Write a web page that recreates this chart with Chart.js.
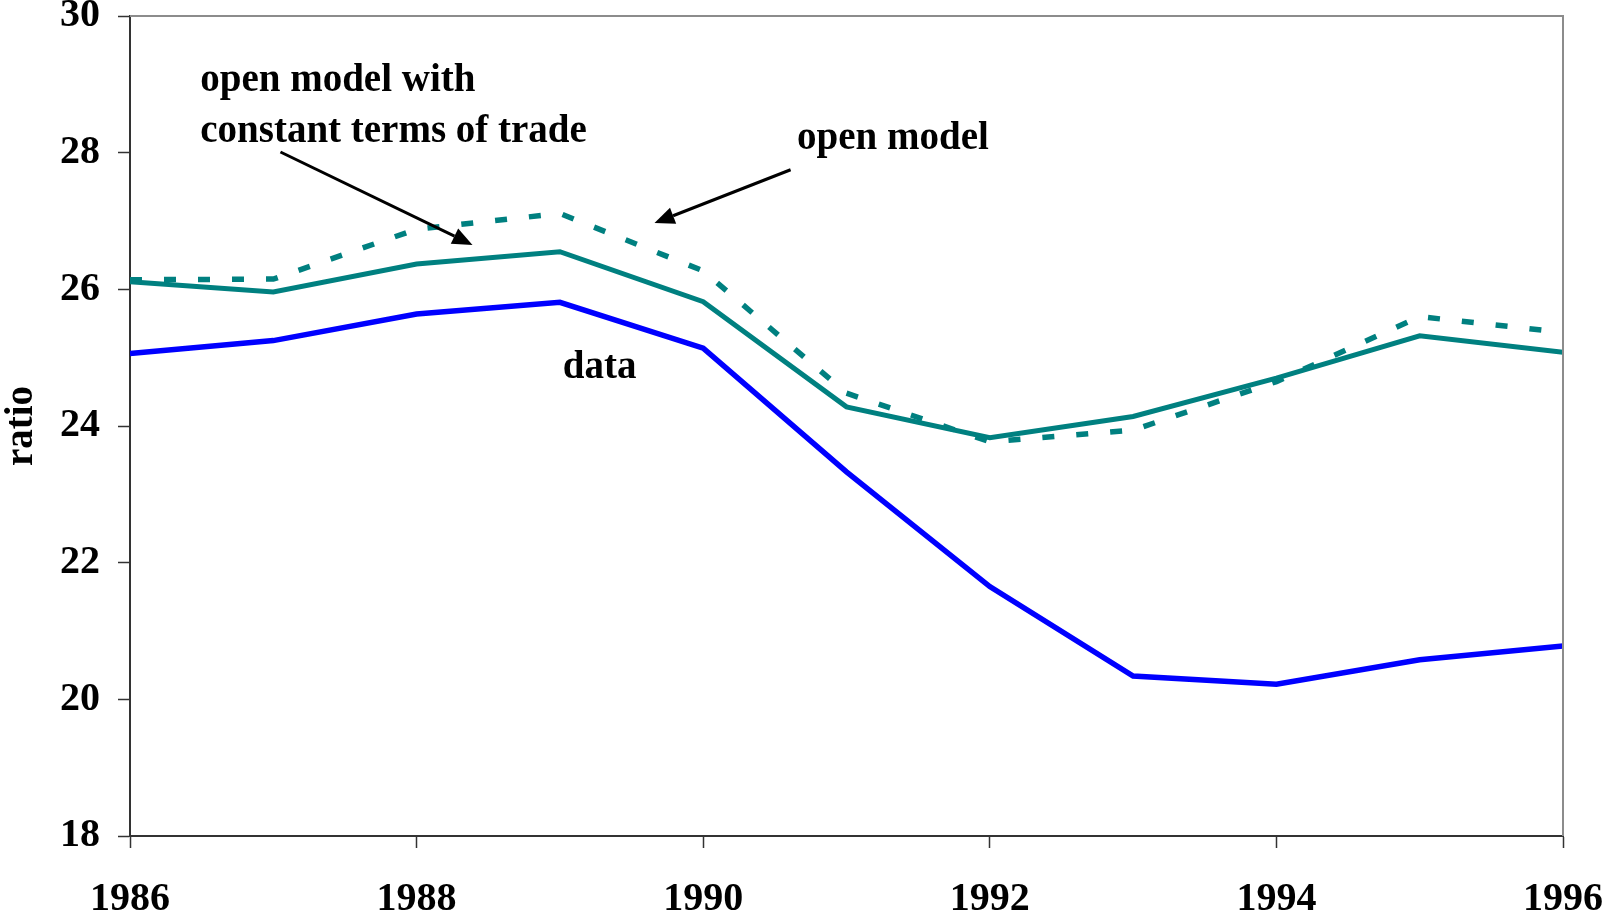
<!DOCTYPE html>
<html lang="en">
<head>
  <meta charset="UTF-8" />
  <title>Ratio: data vs open models</title>
  <script src="https://cdn.jsdelivr.net/npm/chart.js"></script>
  <style>
    html, body {
      margin: 0;
      padding: 0;
      background: #fff;
      overflow: hidden;
    }
    .chart-wrapper {
      width: 1602px;
      height: 915px;
      position: relative;
    }
  </style>
</head>
<body>
  <div class="chart-wrapper">
    <canvas id="ratioChart"></canvas>
  </div>
  <script>
    const years = [1986, 1987, 1988, 1989, 1990, 1991, 1992, 1993, 1994, 1995, 1996];
    const dataRatio = [25.06, 25.25, 25.64, 25.81, 25.14, 23.33, 21.65, 20.34, 20.22, 20.58, 20.78];
    const openModel = [26.14, 26.15, 26.88, 27.11, 26.27, 24.48, 23.77, 23.94, 24.65, 25.60, 25.37];
    const constantTot = [26.11, 25.96, 26.37, 26.55, 25.82, 24.28, 23.83, 24.14, 24.70, 25.32, 25.08];

    const FONT = '"Liberation Serif", "Times New Roman", serif';

    // text labels and arrows, placed in data units (year, ratio)
    const notes = [
      { text: 'open model with', x: 1986.49, y: 28.90 },
      { text: 'constant terms of trade', x: 1986.49, y: 28.16 },
      { text: 'open model', x: 1990.655, y: 28.05 },
      { text: 'data', x: 1989.02, y: 24.70 }
    ];
    const arrows = [
      { from: [1987.05, 28.01], to: [1988.39, 26.65] },
      { from: [1990.61, 27.75], to: [1989.66, 26.97] }
    ];

    const pts = vals => years.map((yr, i) => ({ x: yr, y: vals[i] }));

    const annotate = {
      id: 'annotate',
      afterDatasetsDraw(chart) {
        const { ctx, chartArea: a, scales: { x, y } } = chart;
        ctx.save();
        // top and right frame
        ctx.strokeStyle = '#8c8c8c';
        ctx.lineWidth = 2;
        ctx.beginPath();
        ctx.moveTo(a.left, a.top);
        ctx.lineTo(a.right, a.top);
        ctx.lineTo(a.right, a.bottom);
        ctx.stroke();

        ctx.fillStyle = '#000';
        ctx.font = 'bold 39px ' + FONT;
        ctx.textBaseline = 'alphabetic';
        ctx.textAlign = 'left';
        notes.forEach(n => ctx.fillText(n.text, x.getPixelForValue(n.x), y.getPixelForValue(n.y)));

        ctx.strokeStyle = '#000';
        ctx.lineWidth = 3;
        arrows.forEach(ar => {
          const x0 = x.getPixelForValue(ar.from[0]), y0 = y.getPixelForValue(ar.from[1]);
          const x1 = x.getPixelForValue(ar.to[0]), y1 = y.getPixelForValue(ar.to[1]);
          const ang = Math.atan2(y1 - y0, x1 - x0);
          const len = 20, hw = 8.5;
          const bx = x1 - len * Math.cos(ang), by = y1 - len * Math.sin(ang);
          ctx.beginPath();
          ctx.moveTo(x0, y0);
          ctx.lineTo(bx, by);
          ctx.stroke();
          ctx.beginPath();
          ctx.moveTo(x1, y1);
          ctx.lineTo(bx + hw * Math.sin(ang), by - hw * Math.cos(ang));
          ctx.lineTo(bx - hw * Math.sin(ang), by + hw * Math.cos(ang));
          ctx.closePath();
          ctx.fill();
        });
        ctx.restore();
      }
    };

    const config = {
      type: 'line',
      data: {
        datasets: [
          {
            label: 'data',
            data: pts(dataRatio),
            borderColor: '#0000ff',
            borderWidth: 5.5,
            pointRadius: 0,
            tension: 0
          },
          {
            label: 'open model',
            data: pts(openModel),
            borderColor: '#008080',
            borderWidth: 5.5,
            borderDash: [12, 22],
            borderCapStyle: 'butt',
            pointRadius: 0,
            tension: 0
          },
          {
            label: 'open model with constant terms of trade',
            data: pts(constantTot),
            borderColor: '#008080',
            borderWidth: 5,
            pointRadius: 0,
            tension: 0
          }
        ]
      },
      options: {
        responsive: true,
        maintainAspectRatio: false,
        animation: false,
        plugins: { legend: { display: false }, tooltip: { enabled: false } },
        layout: { padding: 0 },
        scales: {
          x: {
            type: 'linear',
            min: 1986,
            max: 1996,
            border: { display: true, color: '#333', width: 2 },
            grid: { drawOnChartArea: false, drawTicks: true, tickLength: 12, tickColor: '#333', tickWidth: 1.5 },
            ticks: {
              stepSize: 2,
              color: '#000',
              padding: 28,
              maxRotation: 0,
              font: { family: FONT, size: 40, weight: 'bold', lineHeight: 1.2 },
              callback: v => String(v)
            },
            afterFit(s) {
              s.height = 79;
              s.paddingRight = 39;
            }
          },
          y: {
            min: 18,
            max: 30,
            border: { display: true, color: '#333', width: 2 },
            grid: { drawOnChartArea: false, drawTicks: true, tickLength: 12, tickColor: '#333', tickWidth: 1.5 },
            ticks: {
              stepSize: 2,
              color: '#000',
              padding: 18,
              font: { family: FONT, size: 40, weight: 'bold' }
            },
            title: {
              display: true,
              text: 'ratio',
              color: '#000',
              padding: { top: 2, bottom: 0 },
              font: { family: FONT, size: 39, weight: 'bold', lineHeight: 1 }
            },
            afterFit(s) {
              s.width = 130;
              s.paddingTop = 16;
            }
          }
        }
      },
      plugins: [annotate]
    };
    new Chart(document.getElementById('ratioChart'), config);
  </script>
</body>
</html>
